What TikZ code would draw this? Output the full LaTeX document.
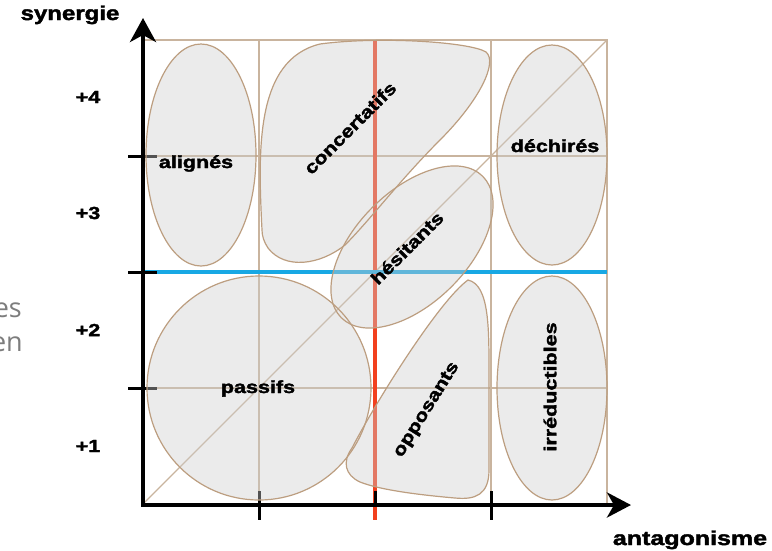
\documentclass[tikz,border=0pt]{standalone}
\usepackage{fontspec}
\setmainfont{Liberation Sans}[BoldFeatures={FakeBold=1.8}]
\newfontfamily\osans{Open Sans}
\usetikzlibrary{arrows.meta}
\definecolor{gridc}{RGB}{201,180,158}
\definecolor{edgec}{RGB}{188,158,128}
\definecolor{shapec}{RGB}{205,205,205}
\definecolor{redc}{RGB}{242,64,30}
\definecolor{bluec}{RGB}{24,168,228}
\definecolor{ghostc}{RGB}{125,125,125}
\newcommand{\wide}[1]{\scalebox{1.23}[1]{#1}}
\begin{document}
\begin{tikzpicture}[x=1pt,y=-1pt,
  gridline/.style={draw=gridc,line width=1.1pt},
  edgeline/.style={draw=edgec,line width=1.2pt},
  axisline/.style={line width=4pt,black},
  tickline/.style={line width=3pt,black},
  lbl/.style={font=\bfseries\fontsize{17.5}{20}\selectfont,inner sep=0pt,text=black},
  axlbl/.style={font=\bfseries\fontsize{20}{24}\selectfont,inner sep=0pt,text=black},
  ghost/.style={font=\osans\fontsize{27}{32}\selectfont,inner sep=0pt,text=ghostc,anchor=base east}]
\useasboundingbox (0,0) rectangle (772,550);

\def\concpath{(262,230) .. controls (258,150) and (255,60) .. (320,44) .. controls (380,36) and (470,42) .. (486,52) .. controls (498,62) and (480,100) .. (440,140) .. controls (400,180) and (370,220) .. (345,245) .. controls (320,265) and (285,270) .. (268,248) .. controls (264,242) and (262,236) .. (262,230) -- cycle}
\def\opppath{(468,280) .. controls (490,285) and (489,330) .. (489,380) -- (489,470) .. controls (489,495) and (475,500) .. (455,498) .. controls (420,495) and (380,490) .. (360,482) .. controls (345,475) and (342,462) .. (352,448) .. controls (378,398) and (440,300) .. (468,280) -- cycle}

% grid
\draw[gridline] (143,40) rectangle (607,504);
\foreach \x in {259,375,491} \draw[gridline] (\x,40) -- (\x,504);
\foreach \y in {156,388} \draw[gridline] (143,\y) -- (607,\y);
\draw[gridline] (143,504) -- (607,40);

% red and blue lines
\draw[line width=4.5pt, redc] (375,40) -- (375,520);
\draw[line width=4.5pt, bluec] (143,272) -- (607,272);

% axes
\coordinate (ytip) at (143,18);
\coordinate (orig) at (143,505);
\coordinate (xtip) at (631,505);
\draw[axisline,{Stealth[length=24pt,width=26pt,inset=7pt]}-{Stealth[length=24pt,width=25pt,inset=7pt]}] (ytip) -- (orig) -- (xtip);
\foreach \y in {156,272,388} \draw[tickline] (128,\y) -- (157,\y);
\foreach \x in {259,491} \draw[tickline] (\x,491) -- (\x,520);
\draw[tickline] (375,491) -- (375,505);

% translucent shapes
\begin{scope}[transparency group, opacity=0.4]
  \fill[shapec] (201,155) ellipse [x radius=55pt, y radius=111pt];
  \fill[shapec] (552,155) ellipse [x radius=55pt, y radius=110pt];
  \fill[shapec] (552,388) ellipse [x radius=55pt, y radius=112pt];
  \fill[shapec] (259,388) circle [radius=112pt];
  \fill[shapec, rotate around={45:(412,247)}] (412,247) ellipse [x radius=100pt, y radius=56pt];
  \fill[shapec] \concpath;
  \fill[shapec] \opppath;
\end{scope}

% outlines
\draw[edgeline] (201,155) ellipse [x radius=55pt, y radius=111pt];
\draw[edgeline] (552,155) ellipse [x radius=55pt, y radius=110pt];
\draw[edgeline] (552,388) ellipse [x radius=55pt, y radius=112pt];
\draw[edgeline] (259,388) circle [radius=112pt];
\draw[edgeline, rotate around={45:(412,247)}] (412,247) ellipse [x radius=100pt, y radius=56pt];
\draw[edgeline] \concpath;
\draw[edgeline] \opppath;

% labels
\node[lbl,anchor=base] (alignes) at (196,168) {\wide{alignés}};
\node[lbl,anchor=base] (dechires) at (555,152) {\wide{déchirés}};
\node[lbl,anchor=base] (passifs) at (258,393) {\wide{passifs}};
\node[lbl,rotate=45] (concert) at (350,128) {\wide{concertatifs}};
\node[lbl,rotate=45] (hesit) at (407,248) {\wide{hésitants}};
\node[lbl,rotate=58] (oppos) at (427,410) {\wide{opposants}};
\node[lbl,rotate=90] (irred) at (550,387) {\wide{irréductibles}};

\node[lbl] (s4) at (88,97) {\wide{+4}};
\node[lbl] (s3) at (88,213) {\wide{+3}};
\node[lbl] (s2) at (88,330) {\wide{+2}};
\node[lbl] (s1) at (88,446) {\wide{+1}};

\node[axlbl,anchor=base] (syn) at (70,20) {\scalebox{1.2}[1]{synergie}};
\node[axlbl,anchor=base] (ant) at (690,545) {\scalebox{1.25}[1]{antagonisme}};

\node[ghost] (es) at (22,317) {es};
\node[ghost] (en) at (23,351) {en};
\end{tikzpicture}
\end{document}
